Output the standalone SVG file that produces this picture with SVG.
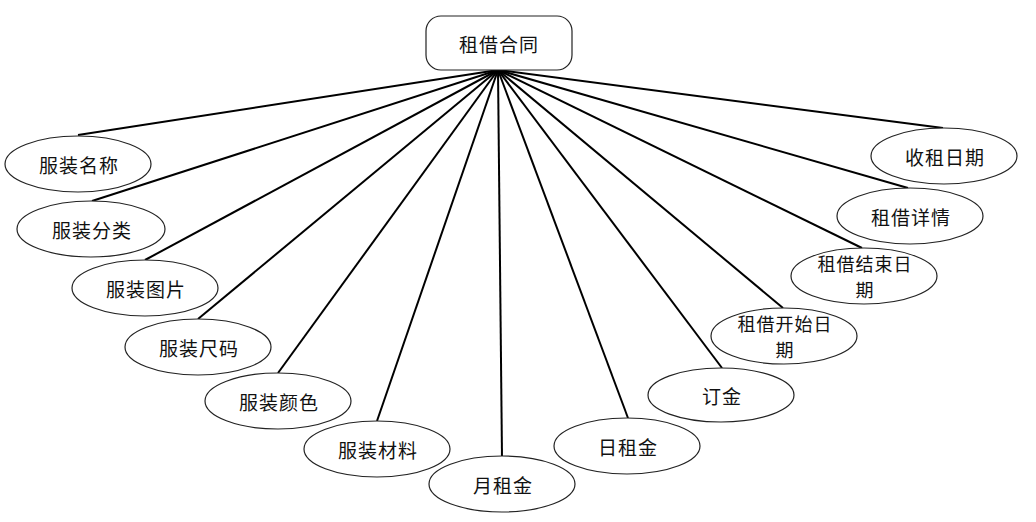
<svg xmlns="http://www.w3.org/2000/svg" width="1036" height="522" viewBox="0 0 1036 522">
<style>
.n{fill:#fff;stroke:#222;stroke-width:1.2}
.t{font-family:"Noto Sans CJK SC","Liberation Serif",sans-serif;font-size:19px;fill:#111;text-anchor:middle;dominant-baseline:central;letter-spacing:1px}
.t2{font-size:18px}
.c line{stroke:#000;stroke-width:2}
</style>
<rect width="1036" height="522" fill="#fff"/>
<g class="c" id="connectors">
<line x1="498" y1="70" x2="78" y2="135"/>
<line x1="498" y1="70" x2="92" y2="201"/>
<line x1="498" y1="70" x2="145" y2="260"/>
<line x1="498" y1="70" x2="198" y2="319"/>
<line x1="498" y1="70" x2="278" y2="373"/>
<line x1="498" y1="70" x2="377" y2="421"/>
<line x1="498" y1="70" x2="502" y2="457"/>
<line x1="498" y1="70" x2="628" y2="418"/>
<line x1="498" y1="70" x2="722" y2="368"/>
<line x1="498" y1="70" x2="783" y2="308"/>
<line x1="498" y1="70" x2="862" y2="248"/>
<line x1="498" y1="70" x2="908" y2="188"/>
<line x1="498" y1="70" x2="943" y2="128"/>
</g>
<g id="root"><rect class="n" x="426" y="16" width="146" height="54" rx="15"/><text class="t" x="499" y="43">租借合同</text></g>
<g id="n1"><ellipse class="n" cx="78" cy="164" rx="73" ry="28"/><text class="t" x="79" y="164">服装名称</text></g>
<g id="n2"><ellipse class="n" cx="91" cy="229" rx="74" ry="28"/><text class="t" x="92" y="229">服装分类</text></g>
<g id="n3"><ellipse class="n" cx="145" cy="288" rx="73" ry="28"/><text class="t" x="146" y="288">服装图片</text></g>
<g id="n4"><ellipse class="n" cx="198" cy="347" rx="73" ry="28"/><text class="t" x="199" y="347">服装尺码</text></g>
<g id="n5"><ellipse class="n" cx="278" cy="401" rx="73" ry="28"/><text class="t" x="279" y="401">服装颜色</text></g>
<g id="n6"><ellipse class="n" cx="377" cy="449" rx="73" ry="28"/><text class="t" x="378" y="449">服装材料</text></g>
<g id="n7"><ellipse class="n" cx="502" cy="484" rx="73" ry="28"/><text class="t" x="503" y="484">月租金</text></g>
<g id="n8"><ellipse class="n" cx="627" cy="446" rx="73" ry="28"/><text class="t" x="628" y="446">日租金</text></g>
<g id="n9"><ellipse class="n" cx="721" cy="395" rx="73" ry="27"/><text class="t" x="722" y="395">订金</text></g>
<g id="n10"><ellipse class="n" cx="784" cy="336" rx="73" ry="28"/><text class="t t2" x="785" y="323">租借开始日</text><text class="t t2" x="785" y="349">期</text></g>
<g id="n11"><ellipse class="n" cx="864" cy="276" rx="73" ry="28"/><text class="t t2" x="865" y="263">租借结束日</text><text class="t t2" x="865" y="289">期</text></g>
<g id="n12"><ellipse class="n" cx="910" cy="216" rx="73" ry="28"/><text class="t" x="911" y="216">租借详情</text></g>
<g id="n13"><ellipse class="n" cx="944" cy="156" rx="73" ry="28"/><text class="t" x="945" y="156">收租日期</text></g>
</svg>
